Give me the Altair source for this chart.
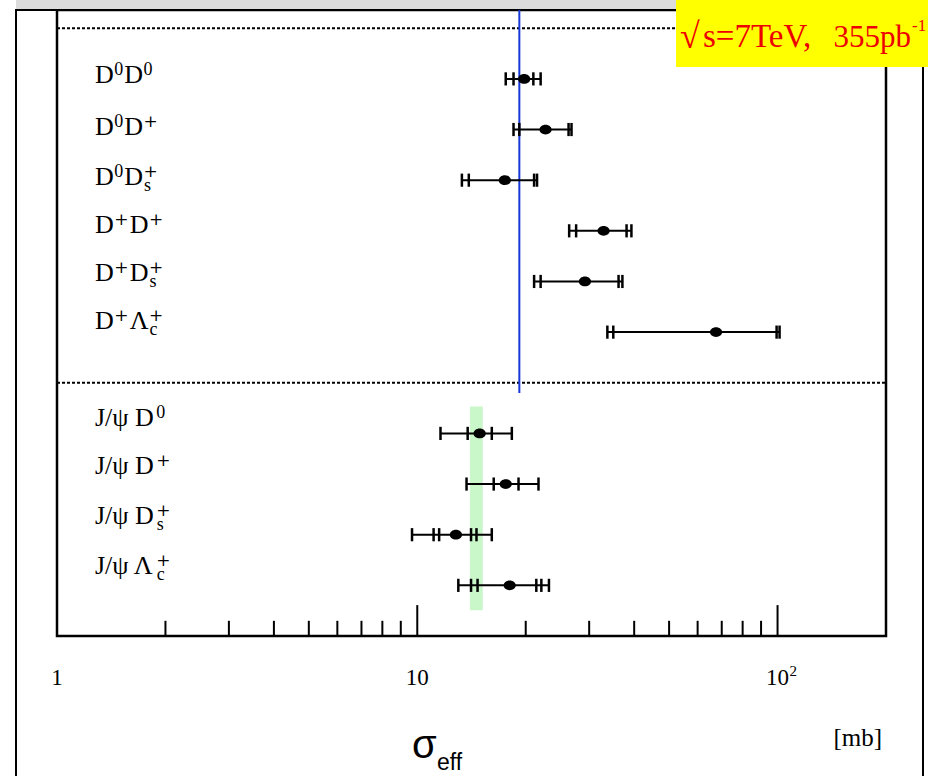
import altair as alt
import pandas as pd

# ---------------- data ----------------
label_names = ["D0D0", "D0D+", "D0Ds+", "D+D+", "D+Ds+", "D+Lc+",
               "JpsiD0", "JpsiD+", "JpsiDs+", "JpsiLc+"]
rows = [1, 2, 3, 4, 5, 6, 8, 9, 10, 11]
label_rows = [0.92, 1.95, 2.93, 3.88, 4.83, 5.79, 7.69, 8.65, 9.64, 10.61]
centers = [19.8, 22.7, 17.5, 32.9, 29.2, 67.5, 14.9, 17.6, 12.8, 18.05]
cap_values = [
    [17.6, 18.5, 21.0, 22.0],
    [18.5, 19.2, 26.3, 26.8],
    [13.3, 13.9, 21.1, 21.5],
    [26.4, 27.6, 38.1, 39.3],
    [21.1, 22.0, 36.2, 37.1],
    [33.7, 35.0, 99.4, 101.3],
    [11.6, 13.8, 16.1, 18.3],
    [13.7, 16.3, 19.1, 21.7],
    [9.67, 11.1, 11.5, 14.1, 14.6, 16.1],
    [13.0, 14.1, 14.7, 21.4, 22.1, 23.2],
]
band_x = [14.0, 15.2]        # green band (mb)
band_rows = [7.47, 11.49]
ref_line_x = 19.2            # blue vertical line (mb)
ref_line_rows = [-0.36, 7.2]
dash_rows = [0, 7]
major_ticks = [10, 100]
minor_ticks = [2, 3, 4, 5, 6, 7, 8, 9, 20, 30, 40, 50, 60, 70, 80, 90]
tick_label_values = [1, 10, 100]
tick_label_texts = ["1", "10", "10"]
tick_label_exps = ["", "", "2"]

# label pieces: (text, kind) ; b=base, sup=superscript, sub=subscript stacked under previous sup
label_tokens = [
    [("D", "b"), ("0", "sup"), ("D", "b"), ("0", "sup")],
    [("D", "b"), ("0", "sup"), ("D", "b"), ("+", "sup")],
    [("D", "b"), ("0", "sup"), ("D", "b"), ("+", "sup"), ("s", "sub")],
    [("D", "b"), ("+", "sup"), ("D", "b"), ("+", "sup")],
    [("D", "b"), ("+", "sup"), ("D", "b"), ("+", "sup"), ("s", "sub")],
    [("D", "b"), ("+", "sup"), ("Λ", "b"), ("+", "sup"), ("c", "sub")],
    [("J/ψ D", "b"), ("0", "sup")],
    [("J/ψ D", "b"), ("+", "sup")],
    [("J/ψ D", "b"), ("+", "sup"), ("s", "sub")],
    [("J/ψ Λ", "b"), ("+", "sup"), ("c", "sub")],
]

# ---------------- styling ----------------
W, H = 829, 626
LEFT, TOP = 57, 10
Y_DOM = [-0.36, 12]
FS_BASE, FS_SCRIPT = 26, 18
LABEL_X = 95 - LEFT
base_w = {"D": .722, "Λ": .722, "J": .389, "/": .278, "ψ": .70, " ": .25}
script_w = {"0": .5, "+": .80, "s": .389, "c": .444}

yscale = alt.Scale(domain=Y_DOM, reverse=True)
xscale = alt.Scale(type="log", domain=[1, 200])

# ---------------- tables ----------------
pts = pd.DataFrame({"name": label_names, "row": rows, "center": centers,
                    "lo": [min(c) for c in cap_values], "hi": [max(c) for c in cap_values]})
caps = pd.DataFrame([{"row": r, "cap": v} for r, cs in zip(rows, cap_values) for v in cs])

seg_records = []
for r, toks in zip(label_rows, label_tokens):
    cur = 0.0
    last_script_x = 0.0
    for text, kind in toks:
        if kind == "b":
            seg_records.append({"row": r, "t": text, "kind": "b", "px": LABEL_X + cur})
            cur += sum(base_w[ch] for ch in text) * FS_BASE
        elif kind == "sup":
            last_script_x = cur
            k = "plus" if text == "+" else "sup"
            seg_records.append({"row": r, "t": text, "kind": k, "px": LABEL_X + cur + 0.5})
            cur += sum(script_w[ch] for ch in text) * FS_SCRIPT + 1.5
        else:
            seg_records.append({"row": r, "t": text, "kind": "sub", "px": LABEL_X + last_script_x + 1})
segs = pd.DataFrame(seg_records)

tick_lab = pd.DataFrame({"v": tick_label_values, "t": tick_label_texts, "e": tick_label_exps})
one = pd.DataFrame({"k": [0]})
NOAX = None

# ---------------- decorations (frame, banner) ----------------
frame = alt.Chart(one).mark_rect(fill=None, stroke="black", strokeWidth=2).encode(
    x=alt.value(16 - LEFT), x2=alt.value(923 - LEFT), y=alt.value(0), y2=alt.value(790))
grey = alt.Chart(one).mark_rect(fill="#dcdcdc").encode(
    x=alt.value(16 - LEFT), x2=alt.value(930 - LEFT), y=alt.value(-TOP), y2=alt.value(0))

band = alt.Chart(pd.DataFrame({"x1": [band_x[0]], "x2": [band_x[1]],
                               "y1": [band_rows[0]], "y2": [band_rows[1]]})).mark_rect(
    fill="#c9f7c9").encode(
    x=alt.X("x1:Q", scale=xscale, axis=NOAX), x2="x2:Q",
    y=alt.Y("y1:Q", scale=yscale, axis=NOAX), y2="y2:Q")

dash = alt.Chart(pd.DataFrame({"y": dash_rows, "a": [1, 1], "b": [200, 200]})).mark_rule(
    color="black", strokeWidth=2, strokeDash=[3, 2]).encode(
    x=alt.X("a:Q", scale=xscale, axis=NOAX), x2="b:Q", y=alt.Y("y:Q", scale=yscale, axis=NOAX))

blue = alt.Chart(pd.DataFrame({"x": [ref_line_x], "y1": [ref_line_rows[0]],
                               "y2": [ref_line_rows[1]]})).mark_rule(
    color="#1538d6", strokeWidth=2).encode(
    x=alt.X("x:Q", scale=xscale, axis=NOAX), y=alt.Y("y1:Q", scale=yscale, axis=NOAX), y2="y2:Q")

hbar = alt.Chart(pts).mark_rule(color="black", strokeWidth=2).encode(
    x=alt.X("lo:Q", scale=xscale, axis=NOAX), x2="hi:Q", y=alt.Y("row:Q", scale=yscale, axis=NOAX))

capmarks = alt.Chart(caps).transform_calculate(
    y1="datum.row - 0.13", y2="datum.row + 0.13").mark_rule(
    color="black", strokeWidth=2.5).encode(
    x=alt.X("cap:Q", scale=xscale, axis=NOAX), y=alt.Y("y1:Q", scale=yscale, axis=NOAX), y2="y2:Q")

dots = alt.Chart(pts).mark_point(
    filled=True, opacity=1, color="black", size=150,
    shape="M-1,0A1,0.8 0 1,0 1,0A1,0.8 0 1,0 -1,0Z").encode(
    x=alt.X("center:Q", scale=xscale, axis=NOAX), y=alt.Y("row:Q", scale=yscale, axis=NOAX))

# labels
def lab(kind, font, fs, dy):
    return alt.Chart(segs).transform_filter(alt.datum.kind == kind).mark_text(
        font=font, fontSize=fs, align="left", baseline="alphabetic",
        dy=dy, color="black").encode(
        x=alt.X("px:Q", scale=None, axis=NOAX), y=alt.Y("row:Q", scale=yscale, axis=NOAX), text="t:N")

lab_b = lab("b", "Liberation Serif", FS_BASE, 8)
lab_sup = lab("sup", "Liberation Serif", FS_SCRIPT, 0)
lab_plus = lab("plus", "DejaVu Serif", 17, 0)
lab_sub = lab("sub", "Liberation Serif", FS_SCRIPT, 14)

# axis ticks drawn upward from bottom frame
ticks = alt.Chart(pd.DataFrame({"v": major_ticks + minor_ticks,
                                "major": [1] * len(major_ticks) + [0] * len(minor_ticks)})
                  ).transform_calculate(top="datum.major == 1 ? 11.39 : 11.70").mark_rule(
    color="black", strokeWidth=2).encode(
    x=alt.X("v:Q", scale=xscale, axis=NOAX), y=alt.Y("top:Q", scale=yscale, axis=NOAX), y2=alt.datum(12))

tick_text = alt.Chart(tick_lab).mark_text(
    font="Liberation Serif", fontSize=23, color="black", align="center",
    baseline="alphabetic").encode(
    x=alt.X("v:Q", scale=xscale, axis=NOAX), y=alt.value(685 - TOP), text="t:N")
tick_exp = alt.Chart(tick_lab).mark_text(
    font="Liberation Serif", fontSize=15, color="black", align="left",
    baseline="alphabetic", dx=12).encode(
    x=alt.X("v:Q", scale=xscale, axis=NOAX), y=alt.value(676 - TOP), text="e:N")

# banner
yellow = alt.Chart(one).mark_rect(fill="#ffff00").encode(
    x=alt.value(676 - LEFT), x2=alt.value(930 - LEFT), y=alt.value(-TOP), y2=alt.value(67 - TOP))
RED = "#ee0000"
banner_root = alt.Chart(one).mark_text(
    text="√", font="Liberation Serif", fontSize=36, color=RED,
    align="left", baseline="alphabetic").encode(x=alt.value(680 - LEFT), y=alt.value(48 - TOP))
banner_a = alt.Chart(one).mark_text(
    text="s=7TeV,", font="Liberation Serif", fontSize=33, color=RED,
    align="left", baseline="alphabetic").encode(x=alt.value(703 - LEFT), y=alt.value(47 - TOP))
banner_b = alt.Chart(one).mark_text(
    text="355pb", font="Liberation Serif", fontSize=31, color=RED,
    align="right", baseline="alphabetic").encode(x=alt.value(911 - LEFT), y=alt.value(47 - TOP))
banner_sup = alt.Chart(one).mark_text(
    text="-1", font="Liberation Serif", fontSize=17, color=RED,
    align="left", baseline="alphabetic").encode(x=alt.value(912 - LEFT), y=alt.value(31 - TOP))

# titles
sigma = alt.Chart(one).mark_text(
    text="σ", font="Liberation Sans", fontSize=40, color="black",
    align="left", baseline="alphabetic").encode(x=alt.value(412 - LEFT), y=alt.value(758 - TOP))
eff = alt.Chart(one).mark_text(
    text="eff", font="Liberation Sans", fontSize=23, color="black",
    align="left", baseline="alphabetic").encode(x=alt.value(437 - LEFT), y=alt.value(770 - TOP))
mb = alt.Chart(one).mark_text(
    text="[mb]", font="Liberation Serif", fontSize=25, color="black",
    align="right", baseline="alphabetic").encode(x=alt.value(882 - LEFT), y=alt.value(746 - TOP))

chart = alt.layer(
    grey, frame, band, dash, blue, hbar, capmarks, dots,
    lab_b, lab_sup, lab_plus, lab_sub, ticks, tick_text, tick_exp, yellow,
    banner_root, banner_a, banner_b, banner_sup,
    sigma, eff, mb
).properties(
    width=W, height=H,
    autosize=alt.AutoSizeParams(type="none"),
    padding={"left": LEFT, "top": TOP, "right": 928 - LEFT - W, "bottom": 776 - TOP - H},
    background="white"
).configure_view(stroke="black", strokeWidth=2.5)

chart.save("out.html", embed_options={"renderer": "svg", "actions": False})
